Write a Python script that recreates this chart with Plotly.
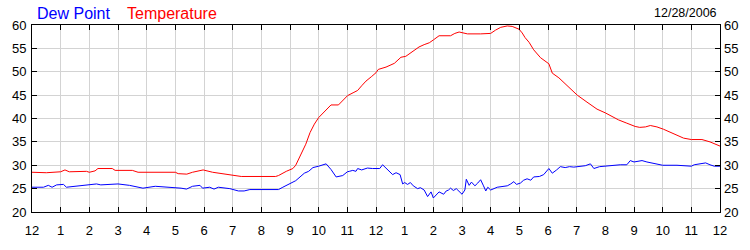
import plotly.graph_objects as go

tick_labels = ["12", "1", "2", "3", "4", "5", "6", "7", "8", "9", "10", "11",
               "12", "1", "2", "3", "4", "5", "6", "7", "8", "9", "10", "11", "12"]

temp_hours = [0, 0.5, 1.0, 1.15, 1.3, 1.9, 2.0, 2.2, 2.3, 2.8, 2.9, 3.5, 3.7, 5.0, 5.1, 5.4, 5.6, 5.97,
              6.3, 6.75, 7.0, 7.3, 8.5, 8.6, 8.87, 9.1, 9.2, 9.28, 9.4, 9.55, 9.7, 9.85, 10.0, 10.15,
              10.3, 10.43, 10.69, 10.85, 11.01, 11.2, 11.36, 11.5, 11.65, 11.85, 12.0, 12.08, 12.35,
              12.64, 12.75, 12.87, 13.04, 13.2, 13.33, 13.5, 13.68, 13.86, 14.0, 14.2, 14.6, 14.75,
              14.9, 15.19, 15.65, 16.0, 16.17, 16.35, 16.58, 16.75, 16.99, 17.1, 17.2, 17.34, 17.5,
              17.74, 18.03, 18.15, 18.38, 18.67, 19.02, 19.36, 19.71, 20.0, 20.29, 20.46, 20.75,
              21.04, 21.2, 21.4, 21.57, 21.8, 22.03, 22.38, 22.73, 23.0, 23.37, 23.65, 24]
temperature = [28.5, 28.4, 28.6, 29.0, 28.6, 28.7, 28.5, 28.8, 29.3, 29.3, 28.9, 28.9, 28.5, 28.5, 28.2,
               28.1, 28.5, 29.0, 28.5, 28.1, 27.8, 27.6, 27.6, 27.8, 28.7, 29.3, 30.0, 31.0, 32.5, 34.5,
               37.0, 38.8, 40.2, 41.2, 42.2, 42.9, 42.9, 44.0, 44.9, 45.5, 46.0, 47.0, 48.0, 49.0, 49.8,
               50.5, 51.0, 51.8, 52.5, 53.1, 53.3, 54.0, 54.7, 55.3, 55.8, 56.2, 56.8, 57.7, 57.7, 58.2,
               58.5, 58.1, 58.1, 58.2, 58.9, 59.5, 59.8, 59.7, 59.1, 58.3, 57.3, 56.3, 54.7, 53.0, 51.7,
               49.7, 48.7, 47.0, 45.0, 43.5, 42.0, 41.2, 40.3, 39.7, 39.0, 38.3, 38.1, 38.2, 38.5, 38.2,
               37.7, 36.7, 35.8, 35.5, 35.5, 35.0, 34.1]

dew_hours = [0, 0.4, 0.57, 0.7, 0.86, 1.1, 1.2, 1.5, 1.7, 2.0, 2.25, 2.4, 2.6, 3.0, 3.4, 3.87, 4.3, 4.7,
             5.0, 5.2, 5.39, 5.6, 5.86, 5.95, 6.2, 6.35, 6.5, 6.7, 6.9, 7.2, 7.4, 7.6, 8.6, 8.75, 9.04,
             9.2, 9.35, 9.5, 9.65, 9.8, 10.0, 10.26, 10.43, 10.61, 10.84, 11.0, 11.07, 11.19, 11.3,
             11.36, 11.5, 11.7, 11.88, 12.13, 12.23, 12.4, 12.58, 12.7, 12.84, 12.93, 13.0, 13.1, 13.2,
             13.3, 13.45, 13.55, 13.68, 13.8, 13.92, 14.0, 14.1, 14.2, 14.36, 14.45, 14.53, 14.6, 14.7,
             14.8, 15.0, 15.1, 15.15, 15.25, 15.33, 15.45, 15.55, 15.65, 15.75, 15.83, 15.9, 16.0,
             16.23, 16.4, 16.58, 16.7, 16.81, 16.9, 17.04, 17.15, 17.27, 17.4, 17.5, 17.7, 17.85,
             18.03, 18.15, 18.3, 18.43, 18.6, 18.75, 18.9, 19.1, 19.3, 19.48, 19.6, 19.8, 20.2, 20.52,
             20.75, 20.87, 21.0, 21.28, 21.45, 21.8, 22.0, 22.5, 23.0, 23.1, 23.5, 23.65, 23.8, 24]
dew_point = [25.3, 25.3, 25.7, 25.3, 25.8, 25.9, 25.3, 25.5, 25.6, 25.7, 26.0, 25.8, 25.9, 26.0, 25.7,
             25.1, 25.5, 25.3, 25.3, 25.1, 24.9, 25.5, 25.7, 25.1, 25.3, 24.9, 25.3, 25.1, 25.0, 24.5,
             24.5, 24.8, 24.8, 25.3, 26.3, 26.7, 27.5, 28.3, 28.7, 29.5, 29.8, 30.3, 29.1, 27.5, 27.8,
             28.6, 28.7, 28.9, 28.7, 29.3, 29.0, 29.4, 29.3, 29.3, 30.1, 29.0, 28.0, 28.4, 28.0, 26.0,
             26.3, 25.9, 26.3, 25.6, 25.0, 25.2, 24.7, 23.3, 24.3, 23.0, 23.7, 24.3, 23.8, 24.5, 24.7,
             25.1, 24.6, 25.0, 23.8, 24.7, 27.0, 25.7, 26.4, 25.6, 26.2, 26.9, 25.6, 24.5, 25.3, 24.7,
             25.3, 25.4, 25.6, 26.0, 26.5, 25.9, 26.2, 26.8, 27.1, 26.8, 27.5, 27.6, 28.0, 29.3, 28.3,
             29.0, 29.7, 29.5, 29.7, 29.6, 29.8, 29.9, 30.3, 29.3, 29.7, 30.0, 30.1, 30.1, 31.0, 30.7,
             31.0, 30.7, 30.3, 30.0, 30.0, 29.8, 30.1, 30.5, 30.1, 29.8, 29.8]

y_ticks = [20, 25, 30, 35, 40, 45, 50, 55, 60]

fig = go.Figure()
fig.add_trace(go.Scatter(x=temp_hours, y=temperature, mode="lines", name="Temperature",
                         line=dict(color="#ff0000", width=1), hoverinfo="skip"))
fig.add_trace(go.Scatter(x=dew_hours, y=dew_point, mode="lines", name="Dew Point",
                         line=dict(color="#0000ff", width=1), hoverinfo="skip"))
# invisible trace for right axis
fig.add_trace(go.Scatter(x=[0], y=[20], yaxis="y2", mode="markers", marker=dict(opacity=0),
                         showlegend=False, hoverinfo="skip"))

font = dict(family="Liberation Sans, Arial, sans-serif", size=13, color="#000000")
axis_common = dict(showline=True, linecolor="#000000", linewidth=1, ticks="inside", ticklen=5,
                   tickcolor="#000000", gridcolor="#d3d3d3", gridwidth=1, zeroline=False,
                   tickfont=font)

fig.update_layout(
    width=750, height=250,
    margin=dict(l=30, r=30, t=25, b=25),
    plot_bgcolor="#ffffff", paper_bgcolor="#ffffff",
    showlegend=False,
    xaxis=dict(range=[0, 24], tickvals=list(range(25)), ticktext=tick_labels, mirror="ticks",
               ticklabelstandoff=6, **axis_common),
    yaxis=dict(range=[20, 60], tickvals=y_ticks, mirror="ticks", ticklabelstandoff=2,
               **axis_common),
    yaxis2=dict(range=[20, 60], tickvals=y_ticks, overlaying="y", side="right", showgrid=False,
                showline=False, ticks="", zeroline=False, tickfont=font, ticklabelstandoff=3),
    annotations=[
        dict(text="Dew Point", x=(33 - 30) / 690, y=1 + 12.5 / 200, xref="paper", yref="paper",
             xanchor="left", yanchor="middle", showarrow=False,
             font=dict(family="Liberation Sans, Arial, sans-serif", size=16, color="#0000ff")),
        dict(text="Temperature", x=(123 - 30) / 690, y=1 + 12.5 / 200, xref="paper", yref="paper",
             xanchor="left", yanchor="middle", showarrow=False,
             font=dict(family="Liberation Sans, Arial, sans-serif", size=16, color="#ff0000")),
        dict(text="12/28/2006", x=(719 - 30) / 690, y=1 + 12.5 / 200, xref="paper", yref="paper",
             xanchor="right", yanchor="middle", showarrow=False,
             font=dict(family="Liberation Sans, Arial, sans-serif", size=12.5, color="#000000")),
    ],
)

fig.write_html("out.html")
